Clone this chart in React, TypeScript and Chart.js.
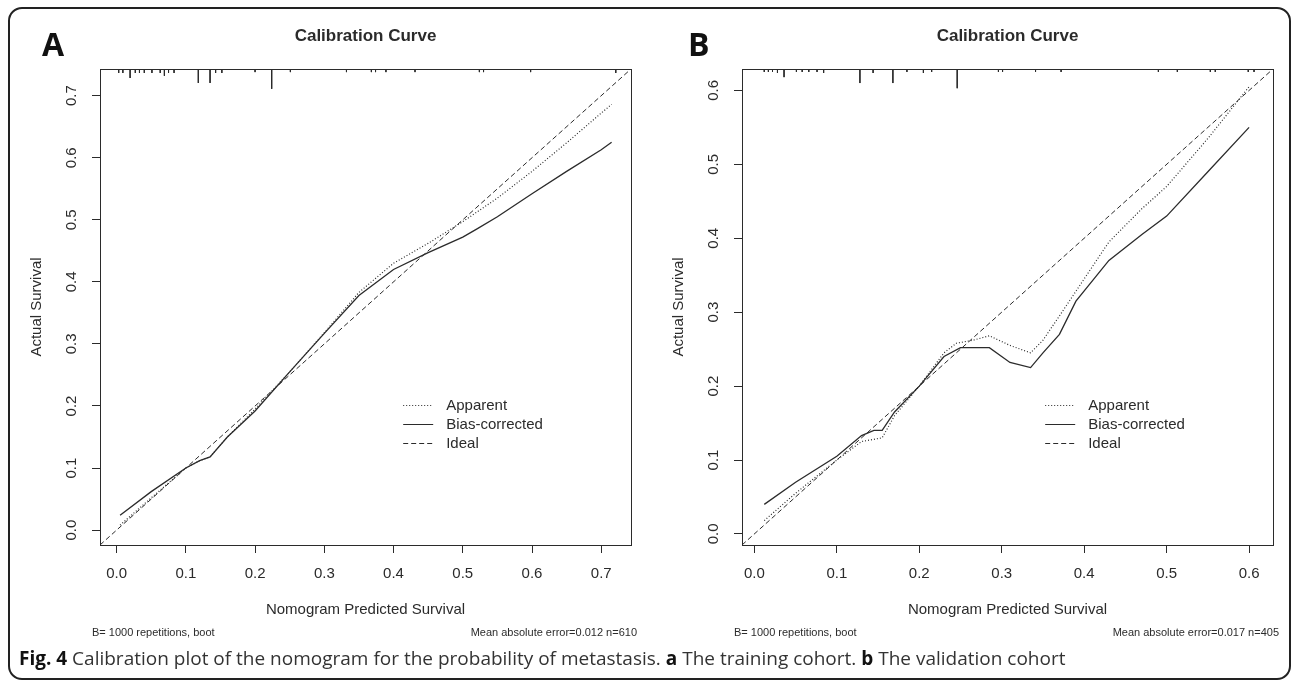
import React, { useEffect, useRef } from "react";
import { Chart, registerables } from "chart.js";

Chart.register(...registerables);

// ---------------- data ----------------
const mainTitle = "Calibration Curve";
const xTitle = "Nomogram Predicted Survival";
const yTitle = "Actual Survival";
const bootNote = "B= 1000 repetitions, boot";
const legendLabels = ["Apparent", "Bias-corrected", "Ideal"];

// Panel A (training cohort)
const ticksA = [0, 0.1, 0.2, 0.3, 0.4, 0.5, 0.6, 0.7];
const limA = [-0.024, 0.743];
const apparentAx = [0.005, 0.05, 0.1, 0.12, 0.135, 0.16, 0.2, 0.25, 0.3, 0.35, 0.4, 0.45, 0.5, 0.55, 0.6, 0.65, 0.7, 0.715];
const apparentAy = [0.008, 0.052, 0.1, 0.112, 0.118, 0.15, 0.195, 0.255, 0.318, 0.383, 0.43, 0.462, 0.497, 0.535, 0.578, 0.624, 0.672, 0.686];
const biasAx = [0.005, 0.05, 0.1, 0.12, 0.135, 0.16, 0.2, 0.25, 0.3, 0.35, 0.4, 0.45, 0.5, 0.52, 0.55, 0.6, 0.65, 0.7, 0.715];
const biasAy = [0.024, 0.062, 0.1, 0.112, 0.118, 0.15, 0.192, 0.255, 0.317, 0.378, 0.42, 0.447, 0.472, 0.485, 0.505, 0.542, 0.578, 0.613, 0.625];
const rugAx = [0.003, 0.009, 0.0195, 0.027, 0.033, 0.04, 0.051, 0.063, 0.069, 0.075, 0.083, 0.118, 0.135, 0.143, 0.152, 0.2, 0.224, 0.251, 0.332, 0.368, 0.374, 0.389, 0.431, 0.524, 0.53, 0.598, 0.721];
const rugAh = [0.0064, 0.0064, 0.0145, 0.0064, 0.0064, 0.0064, 0.0064, 0.0064, 0.011, 0.0064, 0.0064, 0.0225, 0.0225, 0.0064, 0.0064, 0.005, 0.032, 0.005, 0.005, 0.005, 0.005, 0.005, 0.005, 0.005, 0.005, 0.005, 0.0064];
const errorNoteA = "Mean absolute error=0.012 n=610";

// Panel B (validation cohort)
const ticksXB = [0, 0.1, 0.2, 0.3, 0.4, 0.5, 0.6];
const ticksYB = [0, 0.1, 0.2, 0.3, 0.4, 0.5, 0.6];
const limB = [-0.015, 0.629];
const apparentBx = [0.012, 0.05, 0.1, 0.13, 0.155, 0.17, 0.2, 0.23, 0.245, 0.265, 0.285, 0.31, 0.335, 0.35, 0.37, 0.4, 0.43, 0.47, 0.5, 0.55, 0.6];
const apparentBy = [0.018, 0.055, 0.1, 0.125, 0.13, 0.16, 0.2, 0.245, 0.258, 0.262, 0.268, 0.255, 0.245, 0.262, 0.295, 0.345, 0.395, 0.44, 0.47, 0.535, 0.605];
const biasBx = [0.012, 0.05, 0.1, 0.13, 0.145, 0.155, 0.17, 0.2, 0.23, 0.25, 0.285, 0.31, 0.335, 0.35, 0.37, 0.39, 0.43, 0.47, 0.5, 0.55, 0.6];
const biasBy = [0.04, 0.07, 0.105, 0.133, 0.14, 0.14, 0.165, 0.2, 0.24, 0.252, 0.252, 0.232, 0.225, 0.245, 0.27, 0.315, 0.37, 0.405, 0.43, 0.49, 0.55];
const rugBx = [0.012, 0.017, 0.022, 0.028, 0.036, 0.051, 0.058, 0.066, 0.076, 0.084, 0.128, 0.144, 0.168, 0.185, 0.205, 0.215, 0.246, 0.296, 0.301, 0.341, 0.372, 0.49, 0.513, 0.553, 0.559, 0.599, 0.606];
const rugBh = [0.004, 0.004, 0.004, 0.0054, 0.011, 0.004, 0.004, 0.004, 0.004, 0.0054, 0.019, 0.0054, 0.019, 0.004, 0.0054, 0.004, 0.026, 0.004, 0.004, 0.004, 0.004, 0.004, 0.004, 0.004, 0.004, 0.004, 0.004];
const errorNoteB = "Mean absolute error=0.017 n=405";

// ---------------- styles ----------------
const W = 1293;
const H = 683;
const INK = "#2b2b2b";
const FONT = '"Liberation Sans", Arial, Helvetica, sans-serif';
const DOT = [1, 2];
const SOLID: number[] = [];
const DASH = [5, 3];

type Spec = {
  canvasLeft: number;
  canvasWidth: number;
  areaLeft: number;
  areaRight: number;
  areaTop: number;
  areaBottom: number;
  lim: number[];
  xTicks: number[];
  yTicks: number[];
  appX: number[];
  appY: number[];
  biasX: number[];
  biasY: number[];
  rugX: number[];
  rugH: number[];
  errorNote: string;
};

const specA: Spec = {
  canvasLeft: 0, canvasWidth: 646, areaLeft: 100, areaRight: 631, areaTop: 69, areaBottom: 545,
  lim: limA, xTicks: ticksA, yTicks: ticksA,
  appX: apparentAx, appY: apparentAy, biasX: biasAx, biasY: biasAy,
  rugX: rugAx, rugH: rugAh, errorNote: errorNoteA,
};
const specB: Spec = {
  canvasLeft: 646, canvasWidth: 647, areaLeft: 96, areaRight: 627, areaTop: 69, areaBottom: 545,
  lim: limB, xTicks: ticksXB, yTicks: ticksYB,
  appX: apparentBx, appY: apparentBy, biasX: biasBx, biasY: biasBy,
  rugX: rugBx, rugH: rugBh, errorNote: errorNoteB,
};

const pairs = (xs: number[], ys: number[]) => xs.map((x, i) => ({ x, y: ys[i] }));

function buildChart(canvas: HTMLCanvasElement, s: Spec) {
  const AXW = 30;
  const top = s.lim[1];
  const rugData: { x: number; y: number | null }[] = [];
  s.rugX.forEach((x, i) => {
    rugData.push({ x, y: top }, { x, y: top - s.rugH[i] }, { x, y: null });
  });

  const decor = {
    id: "decor",
    afterDraw(chart: any) {
      const { ctx, chartArea: a, scales } = chart;
      const xs = scales.x;
      const ys = scales.y;
      ctx.save();
      // box
      ctx.strokeStyle = INK;
      ctx.lineWidth = 1;
      ctx.setLineDash([]);
      ctx.strokeRect(a.left + 0.5, a.top + 0.5, a.right - a.left, a.bottom - a.top);
      ctx.fillStyle = INK;
      // x tick labels
      ctx.font = `15px ${FONT}`;
      ctx.textAlign = "center";
      ctx.textBaseline = "middle";
      s.xTicks.forEach((t) => {
        ctx.fillText(t.toFixed(1), xs.getPixelForValue(t), a.bottom + 29);
      });
      // y tick labels (rotated)
      s.yTicks.forEach((t) => {
        ctx.save();
        ctx.translate(a.left - 28, ys.getPixelForValue(t));
        ctx.rotate(-Math.PI / 2);
        ctx.fillText(t.toFixed(1), 0, 0);
        ctx.restore();
      });
      // axis titles
      ctx.fillText(xTitle, (a.left + a.right) / 2, a.bottom + 65);
      ctx.save();
      ctx.translate(a.left - 63, (a.top + a.bottom) / 2);
      ctx.rotate(-Math.PI / 2);
      ctx.fillText(yTitle, 0, 0);
      ctx.restore();
      // main title
      ctx.font = `bold 17px ${FONT}`;
      ctx.fillText(mainTitle, (a.left + a.right) / 2, 36);
      // notes
      ctx.font = `11px ${FONT}`;
      ctx.textAlign = "left";
      ctx.fillText(bootNote, a.left - 8, a.bottom + 88);
      ctx.textAlign = "right";
      ctx.fillText(s.errorNote, a.right + 6, a.bottom + 88);
      // legend
      const w = a.right - a.left;
      const h = a.bottom - a.top;
      const lx = a.left + 0.571 * w;
      const ly = a.top + 0.706 * h;
      const dashes = [DOT, SOLID, DASH];
      ctx.font = `15px ${FONT}`;
      ctx.textAlign = "left";
      legendLabels.forEach((lab, i) => {
        const y = Math.round(ly + i * 19) + 0.5;
        ctx.beginPath();
        ctx.setLineDash(dashes[i]);
        ctx.lineWidth = 1;
        ctx.moveTo(lx, y);
        ctx.lineTo(lx + 30, y);
        ctx.stroke();
        ctx.setLineDash([]);
        ctx.fillText(lab, lx + 43, y);
      });
      ctx.restore();
    },
  };

  const lineDs = (label: string, data: any[], dash: number[], width = 1.2) => ({
    label,
    data,
    borderColor: INK,
    borderWidth: width,
    borderDash: dash,
    pointRadius: 0,
    pointHoverRadius: 0,
    fill: false,
    tension: 0,
    spanGaps: false,
  });

  return new Chart(canvas, {
    type: "line",
    data: {
      datasets: [
        lineDs("Ideal", [{ x: s.lim[0], y: s.lim[0] }, { x: s.lim[1], y: s.lim[1] }], DASH, 1),
        lineDs("Apparent", pairs(s.appX, s.appY), DOT, 1.2),
        lineDs("Bias-corrected", pairs(s.biasX, s.biasY), SOLID, 1.3),
        lineDs("rug", rugData, SOLID, 1),
      ],
    },
    options: {
      responsive: false,
      animation: false,
      events: [],
      layout: {
        padding: {
          left: s.areaLeft - AXW,
          right: s.canvasWidth - s.areaRight,
          top: s.areaTop,
          bottom: H - s.areaBottom - AXW,
        },
      },
      plugins: { legend: { display: false }, tooltip: { enabled: false }, title: { display: false } },
      scales: {
        x: {
          type: "linear",
          min: s.lim[0],
          max: s.lim[1],
          afterBuildTicks: (sc: any) => { sc.ticks = s.xTicks.map((v) => ({ value: v })); },
          afterFit: (sc: any) => { sc.height = AXW; },
          ticks: { display: false },
          grid: { drawOnChartArea: false, drawTicks: true, tickLength: 8, color: INK, lineWidth: 1 },
          border: { display: false },
        },
        y: {
          type: "linear",
          min: s.lim[0],
          max: s.lim[1],
          afterBuildTicks: (sc: any) => { sc.ticks = s.yTicks.map((v) => ({ value: v })); },
          afterFit: (sc: any) => { sc.width = AXW; },
          ticks: { display: false },
          grid: { drawOnChartArea: false, drawTicks: true, tickLength: 8, color: INK, lineWidth: 1 },
          border: { display: false },
        },
      },
    },
    plugins: [decor],
  } as any);
}

function Panel({ spec }: { spec: Spec }) {
  const ref = useRef<HTMLCanvasElement>(null);
  useEffect(() => {
    if (!ref.current) return;
    const c = buildChart(ref.current, spec);
    return () => c.destroy();
  }, [spec]);
  return (
    <canvas
      ref={ref}
      width={spec.canvasWidth}
      height={H}
      style={{ position: "absolute", left: spec.canvasLeft, top: 0, width: spec.canvasWidth, height: H }}
    />
  );
}

export default function App() {
  const letter: React.CSSProperties = {
    position: "absolute",
    top: 28,
    fontFamily: '"Open Sans", "Noto Sans", sans-serif',
    fontWeight: 700,
    fontSize: 32,
    lineHeight: "32px",
    color: "#111",
  };
  return (
    <div style={{ position: "absolute", left: 0, top: 0, width: W, height: H, background: "#fff", overflow: "hidden" }}>
      <div
        style={{
          position: "absolute",
          left: 8,
          top: 7,
          width: 1283,
          height: 673,
          boxSizing: "border-box",
          border: "2px solid #222",
          borderRadius: 14,
        }}
      />
      <Panel spec={specA} />
      <Panel spec={specB} />
      <div style={{ ...letter, left: 42 }}>A</div>
      <div style={{ ...letter, left: 688 }}>B</div>
      <div
        style={{
          position: "absolute",
          left: 19,
          top: 646,
          fontFamily: '"Open Sans", "Noto Sans", sans-serif',
          fontSize: 19,
          lineHeight: "24px",
          color: "#333",
          whiteSpace: "nowrap",
        }}
      >
        <b style={{ color: "#111" }}>Fig. 4</b> Calibration plot of the nomogram for the probability of metastasis.{" "}
        <b style={{ color: "#111" }}>a</b> The training cohort. <b style={{ color: "#111" }}>b</b> The validation cohort
      </div>
    </div>
  );
}
